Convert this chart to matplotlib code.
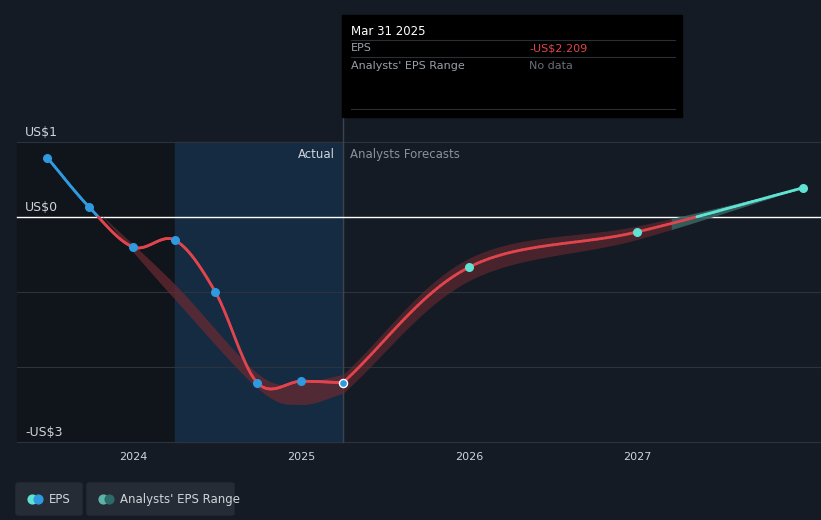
import numpy as np
import matplotlib
matplotlib.use("Agg")
import matplotlib.pyplot as plt

act_x = [2023.49, 2023.74, 2024.0, 2024.25, 2024.49, 2024.74, 2025.0, 2025.25]
act_y = [0.79, 0.13, -0.40, -0.31, -1.00, -2.21, -2.19, -2.209]
fc_x = [2025.25, 2026.0, 2027.0, 2027.99]
fc_y = [-2.209, -0.67, -0.20, 0.39]
rng_x = [2023.8, 2024.25, 2024.75, 2025.0, 2025.25]
rng_lo = [0.05, -1.1, -2.3, -2.5, -2.35]
rng_hi = [0.05, -0.9, -2.1, -2.2, -2.1]
frng_x = [2025.25, 2026.0, 2027.0, 2027.99]
frng_lo = [-2.35, -0.85, -0.30, 0.39]
frng_hi = [-2.1, -0.55, -0.12, 0.39]

def smooth(xs, ys, n=40):
    xs = np.asarray(xs, float); ys = np.asarray(ys, float)
    px = np.concatenate([[2*xs[0]-xs[1]], xs, [2*xs[-1]-xs[-2]]])
    py = np.concatenate([[2*ys[0]-ys[1]], ys, [2*ys[-1]-ys[-2]]])
    ox, oy = [], []
    for i in range(1, len(px)-2):
        t = np.linspace(0, 1, n)
        for arr, out in ((px, ox), (py, oy)):
            p0, p1, p2, p3 = arr[i-1], arr[i], arr[i+1], arr[i+2]
            out.extend(0.5*((2*p1)+(-p0+p2)*t+(2*p0-5*p1+4*p2-p3)*t**2+(-p0+3*p1-3*p2+p3)*t**3))
    return np.array(ox), np.array(oy)

bg = "#151b24"
fig = plt.figure(figsize=(8.21, 5.2), dpi=100, facecolor=bg)
ax = fig.add_axes([0, 0, 1, 1], facecolor=bg)
x0 = 2024 - 133/168; x1 = 2024 + 688/168
ax.set_xlim(x0, x1); ax.set_ylim((217-520)/75, 217/75)
ax.axis("off")

# shaded regions
ax.axvspan(x0+17/168, 2024.25, ymin=(520-442)/520, ymax=(520-142)/520, color="#10141b", zorder=0)
ax.axvspan(2024.25, 2025.25, ymin=(520-442)/520, ymax=(520-142)/520, color="#16304a", alpha=0.8, zorder=0)
for v in [1, -1, -2, -3]:
    ax.plot([x0+17/168, x1], [v, v], color="#2c333d", lw=0.8, zorder=1)
ax.plot([x0+17/168, x1], [0, 0], color="white", lw=1, zorder=2)
ax.plot([2025.25, 2025.25], [-3, 1.35], color="#3a4450", lw=1, zorder=1)

# range bands
sx, slo = smooth(rng_x, rng_lo); _, shi = smooth(rng_x, rng_hi)
ax.fill_between(sx, slo, shi, color="#6b2a30", alpha=0.7, lw=0, zorder=2)
sx, slo = smooth(frng_x, frng_lo); _, shi = smooth(frng_x, frng_hi)
ax.fill_between(sx, slo, shi, where=None, color="#6b2a30", alpha=0.6, lw=0, zorder=2)
m = sx > 2027.2
ax.fill_between(sx[m], slo[m], shi[m], color="#2d6b68", alpha=0.8, lw=0, zorder=2)

def colored(xs, ys, pos, neg, lw=2):
    sx, sy = smooth(xs, ys)
    for i in range(len(sx)-1):
        c = pos if (sy[i]+sy[i+1])/2 > 0 else neg
        ax.plot(sx[i:i+2], sy[i:i+2], color=c, lw=lw, solid_capstyle="round", zorder=3)
colored(act_x, act_y, "#2f9ae0", "#e0444c")
colored(fc_x, fc_y, "#5fe3d2", "#e0444c")

ax.scatter(act_x[:-1], act_y[:-1], s=30, color="#2f9ae0", zorder=4)
ax.scatter([act_x[-1]], [act_y[-1]], s=34, color="#2f9ae0", edgecolor="white", lw=1, zorder=5)
ax.scatter(fc_x[1:], fc_y[1:], s=30, color="#5fe3d2", zorder=4)

tc = "#d0d4da"
ax.text(x0+25/168, 1.08, "US$1", color=tc, fontsize=9)
ax.text(x0+25/168, 0.08, "US$0", color=tc, fontsize=9)
ax.text(x0+25/168, -2.92, "-US$3", color=tc, fontsize=9)
for yr in [2024, 2025, 2026, 2027]:
    ax.text(yr, -3.2, str(yr), color=tc, fontsize=8, ha="center", va="center")
ax.text(2025.2, 0.83, "Actual", color=tc, fontsize=8.5, ha="right", va="center")
ax.text(2025.29, 0.83, "Analysts Forecasts", color="#8a919b", fontsize=8.5, va="center")

# tooltip
def px(x, y): return (x0 + x/168, (217-y)/75)
import matplotlib.patches as mp
bx, by = px(342, 117); bx2, by2 = px(682, 15)
ax.add_patch(mp.Rectangle((bx, by), bx2-bx, by2-by, color="black", zorder=6))
ax.text(*px(351, 31), "Mar 31 2025", color="white", fontsize=8.5, va="center", zorder=7)
ax.text(*px(351, 48), "EPS", color="#9aa0a8", fontsize=8, va="center", zorder=7)
ax.text(*px(529, 48), "-US$2.209", color="#e0444c", fontsize=8, va="center", zorder=7)
ax.text(*px(351, 66), "Analysts' EPS Range", color="#9aa0a8", fontsize=8, va="center", zorder=7)
ax.text(*px(529, 66), "No data", color="#6a7079", fontsize=8, va="center", zorder=7)
for yy in [40, 57, 109]:
    a, b = px(351, yy); c, _ = px(675, yy)
    ax.plot([a, c], [b, b], color="#2a2f36", lw=0.8, zorder=7)

# legend
for (lx, lw_, label, c1, c2) in [(16, 66, "EPS", "#5fe3d2", "#2f9ae0"), (87, 147, "Analysts' EPS Range", "#5fb3a8", "#2d6b68")]:
    a, b = px(lx, 515); c, d = px(lx+lw_, 483)
    ax.add_patch(mp.FancyBboxPatch((a, b), c-a, d-b, boxstyle="round,pad=0,rounding_size=0.02", color="#252c36", zorder=6))
    ax.scatter(*px(lx+16, 499), s=40, color=c1, zorder=7)
    ax.scatter(*px(lx+22, 499), s=40, color=c2, zorder=7)
    ax.text(*px(lx+33, 499), label, color=tc, fontsize=8.5, va="center", zorder=7)

fig.savefig("out.png", dpi=100, facecolor=bg)
